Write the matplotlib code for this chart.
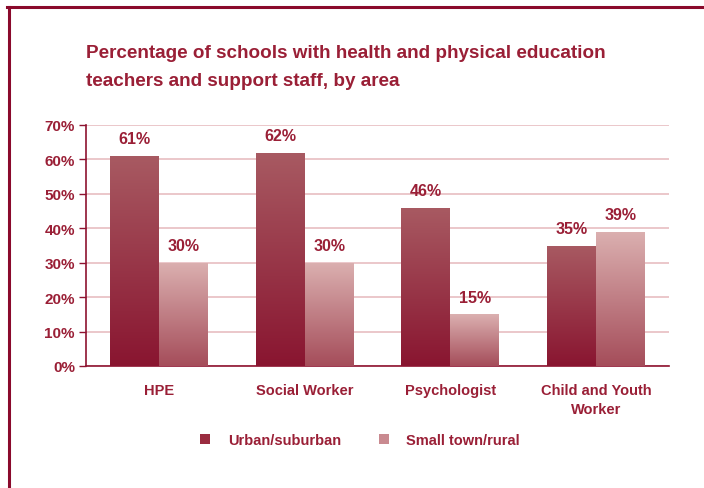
import numpy as np
import matplotlib.pyplot as plt
from matplotlib.lines import Line2D
from matplotlib.colors import LinearSegmentedColormap
from matplotlib.patches import Patch

categories = ["HPE", "Social Worker", "Psychologist", "Child and Youth\nWorker"]
urban = [61, 62, 46, 35]
rural = [30, 30, 15, 39]
series_names = ["Urban/suburban", "Small town/rural"]
yticks = [0, 10, 20, 30, 40, 50, 60, 70]

DARK = "#8e1330"
TEXT = "#9a1f36"
GRID = "#e9c3c6"

# gradient colour maps (bottom -> top)
urban_cmap = LinearSegmentedColormap.from_list("urban", ["#891530", "#a85a62"])
rural_cmap = LinearSegmentedColormap.from_list("rural", ["#a54d5a", "#dbb0b0"])

plt.rcParams['font.family'] = ['Liberation Sans Narrow', 'Liberation Sans', 'DejaVu Sans']

fig = plt.figure(figsize=(7.04, 4.89), dpi=100)
ax = fig.add_axes([86 / 704, 1 - 367 / 489, (669 - 86) / 704, (367 - 126) / 489])

x = np.arange(len(categories))
w = 0.336

bars_u = ax.bar(x - w / 2, urban, w, color="none", edgecolor="none", zorder=3)
bars_r = ax.bar(x + w / 2, rural, w, color="none", edgecolor="none", zorder=3)

grad = np.linspace(0, 1, 256).reshape(-1, 1)
for bars, cmap in [(bars_u, urban_cmap), (bars_r, rural_cmap)]:
    for b in bars:
        x0, y0 = b.get_x(), b.get_y()
        bw, bh = b.get_width(), b.get_height()
        im = ax.imshow(grad, cmap=cmap, origin="lower", aspect="auto",
                       extent=[x0, x0 + bw, y0, y0 + bh], zorder=3)
        im.set_clip_path(b)

for bars, vals in [(bars_u, urban), (bars_r, rural)]:
    for b, v in zip(bars, vals):
        ax.annotate(f"{v}%", (b.get_x() + b.get_width() / 2, v),
                    xytext=(0, 7), textcoords="offset points",
                    ha="center", va="bottom", fontsize=11.5, fontweight="bold",
                    color=TEXT)

ax.set_xlim(-0.5, len(categories) - 0.5)
ax.set_ylim(0, 70)
ax.set_yticks(yticks)
ax.set_yticklabels([f"{t}%" for t in yticks], fontsize=11, fontweight="bold", color=TEXT)
ax.set_xticks(x)
ax.set_xticklabels(categories, fontsize=10.5, fontweight="bold", color=TEXT, linespacing=1.45)
ax.tick_params(axis="y", length=5, color=DARK, width=1, pad=3)
ax.tick_params(axis="x", length=0, pad=12)
ax.yaxis.grid(True, color=GRID, linewidth=1.3, zorder=0)
ax.set_axisbelow(True)
for s in ["top", "right"]:
    ax.spines[s].set_visible(False)
for s in ["left", "bottom"]:
    ax.spines[s].set_color(DARK)
    ax.spines[s].set_linewidth(1.2)

handles = [Patch(facecolor="#9a2c40", edgecolor="none"),
           Patch(facecolor="#c98a90", edgecolor="none")]
fig.legend(handles, series_names, loc="center", bbox_to_anchor=(360 / 704, 1 - 441 / 489),
           ncol=2, frameon=False, handlelength=0.7, handleheight=0.7,
           columnspacing=2.6, handletextpad=1.2,
           prop={"size": 10.5, "weight": "bold"}, labelcolor=TEXT)

fig.text(86 / 704, 1 - 54 / 489, "Percentage of schools with health and physical education",
         fontsize=13.6, fontweight="bold", color=TEXT, va="center", ha="left")
fig.text(86 / 704, 1 - 82 / 489, "teachers and support staff, by area",
         fontsize=13.6, fontweight="bold", color=TEXT, va="center", ha="left")

# frame at top and left
fig.add_artist(Line2D([7 / 704, 1], [1 - 8 / 489, 1 - 8 / 489], transform=fig.transFigure,
                      color="#8a0a2c", linewidth=2.2))
fig.add_artist(Line2D([9 / 704, 9 / 704], [1 - 8 / 489, 0], transform=fig.transFigure,
                      color="#8a0a2c", linewidth=2.2))

fig.savefig("out.png", dpi=100)
